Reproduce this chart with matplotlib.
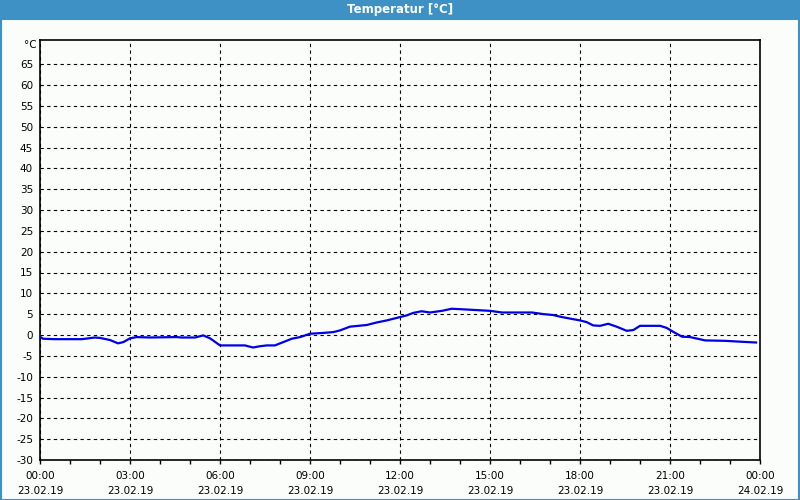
import matplotlib
matplotlib.use("Agg")
import matplotlib.pyplot as plt
from matplotlib.patches import Rectangle
from matplotlib.ticker import MultipleLocator

# Data (hours since 23.02.19 00:00, temperature in °C)
hours = [0.0, 0.1, 0.5, 1.4, 1.83, 2.0, 2.33, 2.6, 2.78, 3.0, 3.22, 3.67, 4.55, 4.72,
         5.17, 5.44, 5.67, 6.0, 6.83, 7.1, 7.33, 7.56, 7.83, 8.11, 8.39, 8.67, 9.0,
         9.44, 9.78, 10.0, 10.33, 10.89, 11.22, 11.56, 12.0, 12.22, 12.44, 12.72,
         13.0, 13.4, 13.72, 14.0, 14.5, 15.0, 15.4, 16.4, 16.8, 17.1, 17.4, 18.0,
         18.22, 18.44, 18.67, 18.94, 19.22, 19.56, 19.78, 20.0, 20.67, 20.89, 21.1,
         21.4, 21.67, 22.17, 22.83, 23.33, 23.87]
temps = [-0.4, -0.9, -1.0, -1.0, -0.6, -0.7, -1.2, -2.0, -1.7, -0.8, -0.5, -0.6, -0.5, -0.6,
         -0.6, -0.1, -0.8, -2.5, -2.5, -3.0, -2.7, -2.5, -2.5, -1.7, -0.9, -0.5, 0.3,
         0.5, 0.7, 1.1, 2.0, 2.4, 3.0, 3.5, 4.3, 4.7, 5.3, 5.7,
         5.4, 5.8, 6.3, 6.2, 6.0, 5.8, 5.4, 5.4, 5.0, 4.8, 4.3, 3.5,
         3.1, 2.3, 2.2, 2.7, 2.0, 1.0, 1.2, 2.2, 2.2, 1.7, 0.8,
         -0.4, -0.5, -1.3, -1.4, -1.6, -1.8]

tick_hours = [0, 3, 6, 9, 12, 15, 18, 21, 24]
tick_labels = ["00:00\n23.02.19", "03:00\n23.02.19", "06:00\n23.02.19", "09:00\n23.02.19",
               "12:00\n23.02.19", "15:00\n23.02.19", "18:00\n23.02.19", "21:00\n23.02.19",
               "00:00\n24.02.19"]
y_ticks = list(range(-30, 70, 5))
title = "Temperatur [°C]"
unit = "°C"

plt.rcParams['font.family'] = ['DejaVu Sans']
bg = "#fbfdfb"
bar = "#3d91c4"

fig = plt.figure(figsize=(8, 5), dpi=100, facecolor=bg)
# title bar
fig.patches.append(Rectangle((0, 480/500), 1, 20/500, transform=fig.transFigure,
                             facecolor=bar, edgecolor='none', zorder=0))
fig.patches.append(Rectangle((0.5/800, 0.5/500), 798.5/800, 481/500, transform=fig.transFigure,
                             facecolor='none', edgecolor=bar, linewidth=1.5, zorder=0))
fig.text(0.5, 490/500, title, color='white', fontsize=8.5, fontweight='bold',
         ha='center', va='center')

ax = fig.add_axes([40/800, 40/500, 720/800, 420/500])
ax.set_facecolor(bg)
ax.plot(hours, temps, color='#0000e6', linewidth=1.6, solid_joinstyle='round', zorder=3)

ax.set_xlim(0, 24)
ax.set_ylim(-30, 70.8)
ax.set_xticks(tick_hours)
ax.set_xticklabels(tick_labels, fontsize=7.5, linespacing=1.65)
ax.xaxis.set_minor_locator(MultipleLocator(1))
ax.set_yticks(y_ticks)
ax.set_yticklabels([str(v) for v in y_ticks], fontsize=7.5)
ax.tick_params(axis='x', which='both', direction='out', length=3, width=1, pad=5, colors='black')
ax.tick_params(axis='y', length=0, pad=5)

ax.grid(True, which='major', color='black', linestyle=(0, (3, 3)), linewidth=0.8)
for s in ax.spines.values():
    s.set_color('black')
    s.set_linewidth(1.2)

ax.text(-3/720, (460-45)/420, unit, transform=ax.transAxes, ha='right', va='center', fontsize=7.5)

fig.savefig("out.png", dpi=100, facecolor=bg)
